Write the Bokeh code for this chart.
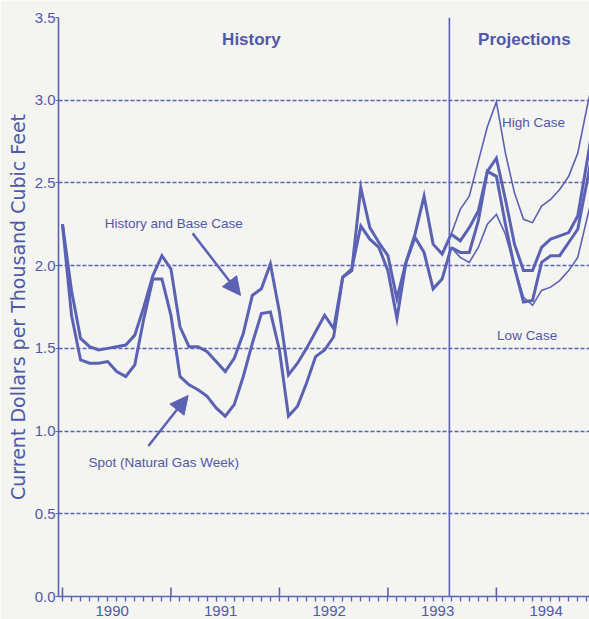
from bokeh.plotting import figure
from bokeh.models import Range1d, FixedTicker, Span, Label, Arrow, NormalHead, CustomJSTickFormatter
from bokeh.embed import file_html
from bokeh.resources import INLINE

# ---------------- data (monthly, index 0 = Jan 1990) ----------------
hist_months = list(range(0, 44))
base_hist = [2.25, 1.85, 1.56, 1.51, 1.49, 1.50, 1.51, 1.52, 1.58, 1.75, 1.94, 2.06,
             1.98, 1.63, 1.51, 1.51, 1.48, 1.42, 1.36, 1.44, 1.59, 1.82, 1.86, 2.01,
             1.72, 1.34, 1.41, 1.50, 1.60, 1.70, 1.62, 1.93, 1.98, 2.24, 2.16, 2.11,
             1.97, 1.68, 2.02, 2.17, 2.08, 1.86, 1.92, 2.11]
spot_hist = [2.25, 1.70, 1.43, 1.41, 1.41, 1.42, 1.36, 1.33, 1.40, 1.68, 1.92, 1.92,
             1.70, 1.33, 1.28, 1.25, 1.21, 1.14, 1.09, 1.16, 1.33, 1.53, 1.71, 1.72,
             1.49, 1.09, 1.15, 1.29, 1.45, 1.49, 1.57, 1.93, 1.97, 2.47, 2.23, 2.14,
             2.06, 1.80, 2.02, 2.19, 2.42, 2.13, 2.07, 2.19]

proj_months = list(range(43, 60))
base_proj = [2.11, 2.08, 2.08, 2.27, 2.57, 2.54, 2.25, 1.99, 1.78, 1.79, 2.02, 2.06,
             2.06, 2.14, 2.22, 2.50, 2.80]
spot_proj = [2.19, 2.15, 2.23, 2.33, 2.57, 2.65, 2.40, 2.13, 1.97, 1.97, 2.11, 2.16,
             2.18, 2.20, 2.30, 2.62, 2.95]
high_case = [2.19, 2.34, 2.42, 2.63, 2.84, 2.99, 2.68, 2.44, 2.28, 2.26, 2.36, 2.40,
             2.46, 2.54, 2.68, 2.95, 3.20]
low_case = [2.11, 2.05, 2.02, 2.11, 2.25, 2.31, 2.19, 1.99, 1.81, 1.76, 1.85, 1.87,
            1.91, 1.97, 2.05, 2.28, 2.50]

years = [1990, 1991, 1992, 1993, 1994]
y_ticks = [0.0, 0.5, 1.0, 1.5, 2.0, 2.5, 3.0, 3.5]
projection_start = 42.8

# ---------------- style ----------------
LINE = "#5b62b4"
TEXT = "#5158a8"
BG = "#f4f4f1"
SANS = "Liberation Sans"

p = figure(width=589, height=619, output_backend="svg", toolbar_location=None,
           x_range=Range1d(-0.44, 58.3), y_range=Range1d(0, 3.5),
           min_border_left=58, min_border_right=0, min_border_top=17, min_border_bottom=23)
p.background_fill_color = BG
p.border_fill_color = BG
p.outline_line_color = None

# grid
p.xgrid.visible = False
p.ygrid.ticker = FixedTicker(ticks=y_ticks)
p.ygrid.grid_line_color = LINE
p.ygrid.grid_line_width = 1.4
p.ygrid.grid_line_dash = "4 2"

# y axis
p.yaxis.ticker = FixedTicker(ticks=y_ticks)
p.yaxis.formatter = CustomJSTickFormatter(code="return tick.toFixed(1);")
p.yaxis.axis_line_color = LINE
p.yaxis.axis_line_width = 1.6
p.yaxis.major_tick_line_color = LINE
p.yaxis.major_tick_in = 0
p.yaxis.major_tick_out = 3
p.yaxis.minor_tick_line_color = None
p.yaxis.major_label_standoff = 0
p.yaxis.major_label_text_color = TEXT
p.yaxis.major_label_text_font = SANS
p.yaxis.major_label_text_font_size = "15px"
p.yaxis.axis_label = "Current Dollars per Thousand Cubic Feet"
p.yaxis.axis_label_text_color = TEXT
p.yaxis.axis_label_text_font = "DejaVu Sans"
p.yaxis.axis_label_text_font_style = "normal"
p.yaxis.axis_label_text_font_size = "19px"
p.yaxis.axis_label_standoff = 3

# x axis: labels centred in each year, minor ticks monthly
year_mid = [(y - years[0]) * 12 + 5.5 for y in years]
year_start = [(y - years[0]) * 12 for y in years]
p.xaxis.ticker = FixedTicker(ticks=year_mid, minor_ticks=list(range(0, 60)))
p.xaxis.major_label_overrides = {m: str(y) for m, y in zip(year_mid, years)}
p.xaxis.axis_line_color = LINE
p.xaxis.axis_line_width = 1.6
p.xaxis.major_tick_line_color = None
p.xaxis.major_tick_in = 0
p.xaxis.major_tick_out = 0
p.xaxis.minor_tick_line_color = LINE
p.xaxis.minor_tick_line_width = 1.3
p.xaxis.minor_tick_in = 0
p.xaxis.minor_tick_out = 5
p.xaxis.major_label_standoff = 4
p.xaxis.major_label_text_color = TEXT
p.xaxis.major_label_text_font = SANS
p.xaxis.major_label_text_font_size = "15px"

# long year ticks (inside)
p.segment(x0=year_start, y0=[0] * len(year_start), x1=year_start,
          y1=[0.055] * len(year_start), line_color=LINE, line_width=1.6)

# projections divider
p.add_layout(Span(location=projection_start, dimension="height", line_color=LINE, line_width=1.6))

# series
p.line(hist_months, base_hist, line_color=LINE, line_width=3, line_join="miter")
p.line(hist_months, spot_hist, line_color=LINE, line_width=3, line_join="miter")
p.line(proj_months, base_proj, line_color=LINE, line_width=3, line_join="miter")
p.line(proj_months, spot_proj, line_color=LINE, line_width=3, line_join="miter")
p.line(proj_months, high_case, line_color=LINE, line_width=1.6, line_join="miter")
p.line(proj_months, low_case, line_color=LINE, line_width=1.6, line_join="miter")

# annotations
def lab(x, y, text, size, bold=False):
    p.add_layout(Label(x=x, y=y, text=text, text_color=TEXT, text_font=SANS,
                       text_font_size=size, text_font_style="bold" if bold else "normal",
                       text_align="center", text_baseline="middle"))

lab(20.9, 3.37, "History", "17px", True)
lab(51.1, 3.37, "Projections", "17px", True)
lab(12.3, 2.255, "History and Base Case", "13.5px")
lab(11.2, 0.81, "Spot (Natural Gas Week)", "13.5px")
lab(52.1, 2.866, "High Case", "13.5px")
lab(51.4, 1.578, "Low Case", "13.5px")

for (xs, ys, xe, ye) in [(14.4, 2.195, 19.7, 1.82), (9.5, 0.91, 13.9, 1.215)]:
    p.add_layout(Arrow(x_start=xs, y_start=ys, x_end=xe, y_end=ye,
                       line_color=LINE, line_width=2.5,
                       end=NormalHead(size=18, fill_color=LINE, line_color=LINE)))

html = file_html(p, INLINE)
html = html.replace("<body>", '<body style="background:%s">' % BG, 1)
open("out.html", "w").write(html)
